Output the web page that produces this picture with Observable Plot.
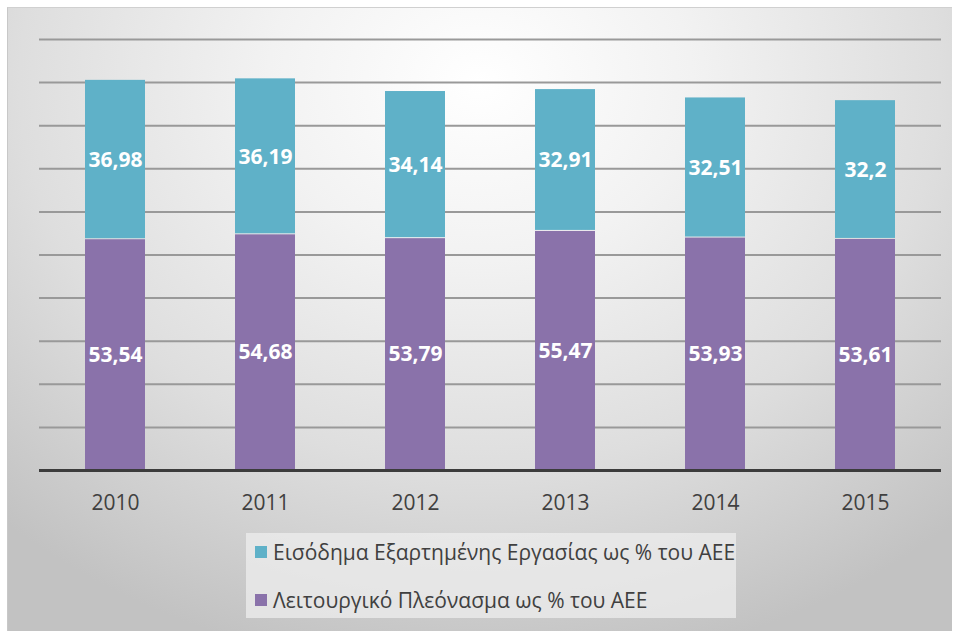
<!DOCTYPE html>
<html>
<head>
<meta charset="utf-8">
<script src="https://cdn.jsdelivr.net/npm/d3@7"></script>
<script src="https://cdn.jsdelivr.net/npm/@observablehq/plot@0.6"></script>
<style>
  html, body { margin: 0; padding: 0; background: #ffffff; }
  #frame {
    position: absolute; left: 7px; top: 7px; width: 944px; height: 624px;
    background: radial-gradient(ellipse 75% 95% at 50% 12%, #ffffff 0%, #f2f2f2 30%, #dedede 65%, #c2c2c2 100%);
    border-top: 1px solid #d0d0d0; border-left: 1px solid #c8c8c8;
    font-family: "Open Sans", sans-serif;
  }
  #legend {
    margin-left: 238px; margin-top: 5px; width: 490px; height: 85px;
    background: rgba(238,238,238,0.75); position: relative;
  }
  .item { position: absolute; left: 9px; display: flex; align-items: center; font-size: 21px; color: #404040; white-space: nowrap; }
  .sw { width: 12px; height: 12px; margin-right: 6px; }
</style>
</head>
<body>
<div id="frame"><div id="chart"></div><div id="legend"></div></div>
<script>
const years = ["2010", "2011", "2012", "2013", "2014", "2015"];
const seriesNames = ["Λειτουργικό Πλεόνασμα ως % του ΑΕΕ", "Εισόδημα Εξαρτημένης Εργασίας ως % του ΑΕΕ"];
const surplus = [53.54, 54.68, 53.79, 55.47, 53.93, 53.61];
const wages = [36.98, 36.19, 34.14, 32.91, 32.51, 32.2];
const colors = ["#8a72aa", "#5fb1c8"];
const legendOrder = [1, 0];

const data = [];
years.forEach((y, i) => data.push({year: y, series: seriesNames[0], value: surplus[i]}));
years.forEach((y, i) => data.push({year: y, series: seriesNames[1], value: wages[i]}));

const fmt = v => String(v).replace(".", ",");

const chart = Plot.plot({
  width: 944,
  height: 520,
  marginLeft: 31,
  marginRight: 11,
  marginTop: 31,
  marginBottom: 58,
  style: {background: "transparent", color: "#404040", fontFamily: "Open Sans, sans-serif", overflow: "visible"},
  x: {domain: years, paddingInner: 0.6, paddingOuter: 0.3, label: null},
  y: {domain: [0, 100], axis: null},
  color: {domain: seriesNames, range: colors},
  marks: [
    Plot.gridY({ticks: 10, stroke: "#999999", strokeOpacity: 1, strokeWidth: 2}),
    Plot.barY(data, Plot.stackY({x: "year", y: "value", z: "series", fill: "series", insetBottom: 1})),
    Plot.text(data, Plot.stackY({x: "year", y: "value", z: "series", text: d => fmt(d.value),
      fill: "white", fontWeight: "bold", fontSize: 21})),
    Plot.ruleY([0], {stroke: "#3c3c3c", strokeWidth: 3}),
    Plot.axisX({tickSize: 0, tickPadding: 25, fontSize: 21, label: null})
  ]
});
document.getElementById("chart").appendChild(chart);

const legend = document.getElementById("legend");
legendOrder.forEach((k, j) => {
  const item = document.createElement("div");
  item.className = "item";
  item.style.top = (j === 0 ? 5 : 53) + "px";
  const sw = document.createElement("span");
  sw.className = "sw";
  sw.style.background = colors[k];
  const t = document.createElement("span");
  t.textContent = seriesNames[k];
  item.appendChild(sw); item.appendChild(t);
  legend.appendChild(item);
});
</script>
</body>
</html>
